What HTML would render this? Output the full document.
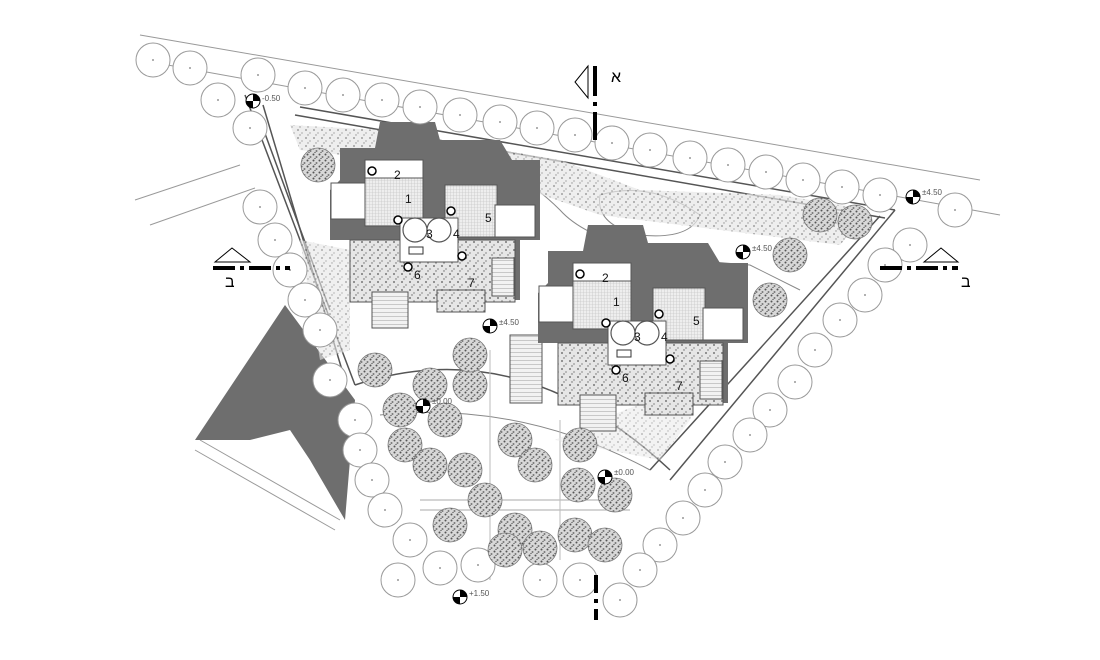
<!DOCTYPE html>
<html><head><meta charset="utf-8"><style>
html,body{margin:0;padding:0;background:#fff;width:1100px;height:660px;overflow:hidden}
svg{display:block}
text{font-family:"Liberation Sans",sans-serif}
</style></head><body>
<svg width="1100" height="660" viewBox="0 0 1100 660" xmlns="http://www.w3.org/2000/svg">
<defs>
<pattern id="hatch" width="3" height="3" patternUnits="userSpaceOnUse"><rect width="3" height="3" fill="#eee"/><path d="M0 0H3M0 0V3" stroke="#bbb" stroke-width="0.6"/></pattern>
<pattern id="speck" width="8" height="8" patternUnits="userSpaceOnUse"><rect width="8" height="8" fill="#e6e6e6"/><circle cx="2" cy="2" r="1" fill="#777"/><circle cx="6" cy="5" r="0.9" fill="#999"/><circle cx="4" cy="7" r="0.7" fill="#666"/></pattern>
<pattern id="speck2" width="6" height="6" patternUnits="userSpaceOnUse"><rect width="6" height="6" fill="#d8d8d8"/><circle cx="1.5" cy="1.5" r="1" fill="#555"/><circle cx="4.5" cy="4" r="1" fill="#777"/><circle cx="3" cy="5.5" r="0.6" fill="#444"/></pattern>
<pattern id="stairs" width="4" height="4" patternUnits="userSpaceOnUse"><rect width="4" height="4" fill="#f2f2f2"/><path d="M0 0H4" stroke="#888" stroke-width="0.8"/></pattern>
<g id="tree"><circle r="17" fill="#fff" stroke="#999" stroke-width="1"/><circle r="1" fill="#999"/></g>
<g id="btree"><circle r="17" fill="url(#speck2)" stroke="#777" stroke-width="0.8"/></g>
<g id="lvl"><circle r="7" fill="#fff" stroke="#000" stroke-width="1"/><path d="M0 -7A7 7 0 0 1 7 0H0Z M0 7A7 7 0 0 1 -7 0H0Z" fill="#000"/></g>
<g id="house">
 <path d="M340 148H375L380 122H435L440 140H500L512 160H540V240H520V300H350V240H330V190L340 180Z" fill="#6e6e6e"/>
 <rect x="331" y="183" width="34" height="36" fill="#fff" stroke="#555"/>
 <rect x="365" y="160" width="58" height="66" fill="url(#hatch)" stroke="#555"/>
 <rect x="365" y="160" width="58" height="18" fill="#fff" stroke="#555"/>
 <rect x="445" y="185" width="52" height="52" fill="url(#hatch)" stroke="#555"/>
 <rect x="495" y="205" width="40" height="32" fill="#fff" stroke="#555"/>
 <rect x="350" y="240" width="165" height="62" fill="url(#speck)" stroke="#555"/>
 <rect x="400" y="218" width="58" height="44" fill="#fff" stroke="#555"/>
 <circle cx="415" cy="230" r="12" fill="none" stroke="#555" stroke-width="1.2"/>
 <circle cx="439" cy="230" r="12" fill="none" stroke="#555" stroke-width="1.2"/>
 <rect x="409" y="247" width="14" height="7" fill="#fff" stroke="#333"/>
 <rect x="372" y="292" width="36" height="36" fill="url(#stairs)" stroke="#555"/>
 <rect x="437" y="290" width="48" height="22" fill="url(#speck)" stroke="#555"/>
 <rect x="492" y="258" width="22" height="38" fill="url(#stairs)" stroke="#555"/>
 <circle cx="372" cy="171" r="4" fill="#fff" stroke="#000" stroke-width="1.5"/>
 <circle cx="398" cy="220" r="4" fill="#fff" stroke="#000" stroke-width="1.5"/>
 <circle cx="451" cy="211" r="4" fill="#fff" stroke="#000" stroke-width="1.5"/>
 <circle cx="462" cy="256" r="4" fill="#fff" stroke="#000" stroke-width="1.5"/>
 <circle cx="408" cy="267" r="4" fill="#fff" stroke="#000" stroke-width="1.5"/>
 <g font-size="12" fill="#111"><text x="394" y="179">2</text><text x="405" y="203">1</text><text x="485" y="222">5</text><text x="426" y="238">3</text><text x="453" y="238">4</text><text x="414" y="279">6</text><text x="468" y="287">7</text></g>
</g>
</defs>

<g stroke="#999" fill="none" stroke-width="1">
<path d="M140 35L980 180"/><path d="M140 60L1000 215"/>
<path d="M135 200L240 165"/><path d="M150 225L255 188"/>
<path d="M200 440L340 520"/><path d="M195 450L335 530"/>
</g>
<path d="M195 440L285 305L355 400L345 520L310 460L290 430L250 440Z" fill="#6e6e6e"/>

<g stroke="#555" fill="none" stroke-width="1.5">
<path d="M245 95L355 385M263 105L345 380"/>
<path d="M300 107L895 210M295 115L885 218"/>
<path d="M895 210L670 480M880 216L650 470"/>
<path d="M260 120L330 310"/>
<path d="M355 385Q520 330 670 470"/>
<path d="M380 415Q520 400 650 470" stroke="#888" stroke-width="1"/>
<path d="M600 195Q650 180 700 215Q690 240 640 235Q595 225 600 195Z" stroke="#888" stroke-width="1"/>
<path d="M430 160Q500 150 560 210Q600 255 750 265L800 290" stroke="#888" stroke-width="1"/>
<path d="M420 500H630M420 510H630" stroke="#aaa" stroke-width="1"/>
<path d="M490 350V580M560 420V560" stroke="#bbb" stroke-width="1"/>
</g>
<rect x="510" y="335" width="32" height="68" fill="url(#stairs)" stroke="#555"/>

<path d="M290 125L380 130L560 160L640 190L780 195L870 210L840 245L600 215L470 170L300 150Z" fill="url(#speck)" opacity="0.7"/>
<path d="M300 240L350 250L350 350L320 360Z" fill="url(#speck)" opacity="0.6"/>
<path d="M555 440L660 460L690 420L700 380L600 420Z" fill="url(#speck)" opacity="0.5"/>

<use href="#house"/>
<use href="#house" transform="translate(208,103)"/>

<g>
<use href="#tree" x="153" y="60"/><use href="#tree" x="190" y="68"/><use href="#tree" x="218" y="100"/><use href="#tree" x="250" y="128"/>
<use href="#tree" x="258" y="75"/><use href="#tree" x="305" y="88"/><use href="#tree" x="343" y="95"/><use href="#tree" x="382" y="100"/><use href="#tree" x="420" y="107"/><use href="#tree" x="460" y="115"/><use href="#tree" x="500" y="122"/><use href="#tree" x="537" y="128"/><use href="#tree" x="575" y="135"/><use href="#tree" x="612" y="143"/><use href="#tree" x="650" y="150"/><use href="#tree" x="690" y="158"/><use href="#tree" x="728" y="165"/><use href="#tree" x="766" y="172"/><use href="#tree" x="803" y="180"/><use href="#tree" x="842" y="187"/><use href="#tree" x="880" y="195"/><use href="#tree" x="955" y="210"/>
<use href="#tree" x="260" y="207"/><use href="#tree" x="275" y="240"/><use href="#tree" x="290" y="270"/><use href="#tree" x="305" y="300"/><use href="#tree" x="320" y="330"/><use href="#tree" x="330" y="380"/><use href="#tree" x="355" y="420"/><use href="#tree" x="360" y="450"/><use href="#tree" x="372" y="480"/><use href="#tree" x="385" y="510"/><use href="#tree" x="410" y="540"/><use href="#tree" x="398" y="580"/><use href="#tree" x="440" y="568"/><use href="#tree" x="478" y="565"/>
<use href="#tree" x="910" y="245"/><use href="#tree" x="885" y="265"/><use href="#tree" x="865" y="295"/><use href="#tree" x="840" y="320"/><use href="#tree" x="815" y="350"/><use href="#tree" x="795" y="382"/><use href="#tree" x="770" y="410"/><use href="#tree" x="750" y="435"/><use href="#tree" x="725" y="462"/><use href="#tree" x="705" y="490"/><use href="#tree" x="683" y="518"/><use href="#tree" x="660" y="545"/><use href="#tree" x="640" y="570"/><use href="#tree" x="620" y="600"/><use href="#tree" x="580" y="580"/><use href="#tree" x="540" y="580"/>
</g>
<g>
<use href="#btree" x="318" y="165"/><use href="#btree" x="820" y="215"/><use href="#btree" x="855" y="222"/><use href="#btree" x="790" y="255"/><use href="#btree" x="770" y="300"/>
<use href="#btree" x="375" y="370"/><use href="#btree" x="430" y="385"/><use href="#btree" x="470" y="385"/><use href="#btree" x="400" y="410"/><use href="#btree" x="445" y="420"/><use href="#btree" x="470" y="355"/>
<use href="#btree" x="405" y="445"/><use href="#btree" x="430" y="465"/><use href="#btree" x="465" y="470"/><use href="#btree" x="515" y="440"/><use href="#btree" x="535" y="465"/><use href="#btree" x="580" y="445"/><use href="#btree" x="578" y="485"/><use href="#btree" x="615" y="495"/><use href="#btree" x="485" y="500"/>
<use href="#btree" x="515" y="530"/><use href="#btree" x="540" y="548"/><use href="#btree" x="505" y="550"/><use href="#btree" x="575" y="535"/><use href="#btree" x="605" y="545"/><use href="#btree" x="450" y="525"/>
</g>

<use href="#lvl" x="253" y="101"/><text x="262" y="101" font-size="8" fill="#555">-0.50</text>
<use href="#lvl" x="913" y="197"/><text x="922" y="195" font-size="8" fill="#555">±4.50</text>
<use href="#lvl" x="743" y="252"/><text x="752" y="251" font-size="8" fill="#555">±4.50</text>
<use href="#lvl" x="490" y="326"/><text x="499" y="325" font-size="8" fill="#555">±4.50</text>
<use href="#lvl" x="423" y="406"/><text x="432" y="404" font-size="8" fill="#555">±0.00</text>
<use href="#lvl" x="605" y="477"/><text x="614" y="475" font-size="8" fill="#555">±0.00</text>
<use href="#lvl" x="460" y="597"/><text x="469" y="596" font-size="8" fill="#555">+1.50</text>

<g stroke="#000" fill="none">
<path d="M595 66V140" stroke-width="4" stroke-dasharray="30 6 4 6"/>
<path d="M588 66L575 82L588 98Z" stroke-width="1" fill="#fff"/>
<path d="M596 575V620" stroke-width="4" stroke-dasharray="18 6 4 6"/>
<path d="M213 268H290" stroke-width="4" stroke-dasharray="22 5 4 5"/>
<path d="M215 262L232 248L250 262Z" stroke-width="1" fill="#fff"/>
<path d="M880 268H958" stroke-width="4" stroke-dasharray="22 5 4 5"/>
<path d="M924 262L941 248L958 262Z" stroke-width="1" fill="#fff"/>
</g>
<text x="611" y="82" font-size="16" font-family="Liberation Sans,DejaVu Sans,sans-serif">א</text>
<text x="225" y="287" font-size="16" font-family="Liberation Sans,DejaVu Sans,sans-serif">ב</text>
<text x="961" y="287" font-size="16" font-family="Liberation Sans,DejaVu Sans,sans-serif">ב</text>
</svg>
</body></html>
